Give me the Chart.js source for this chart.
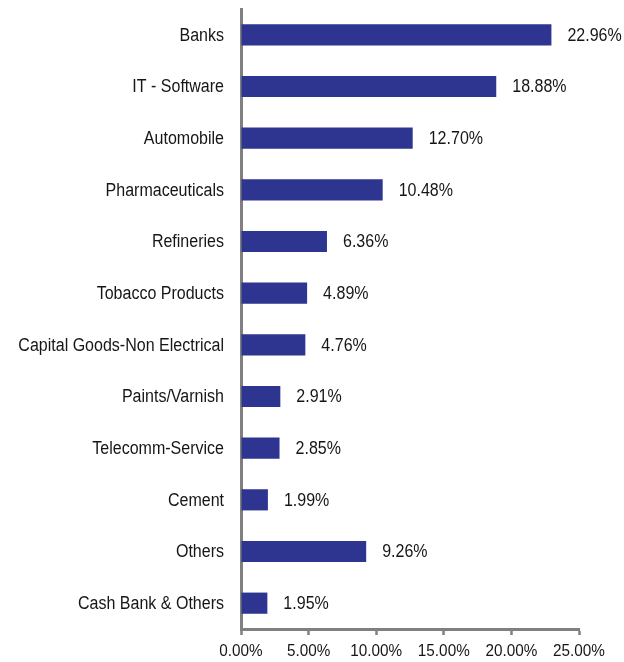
<!DOCTYPE html>
<html>
<head>
<meta charset="utf-8">
<script src="https://cdn.jsdelivr.net/npm/chart.js@4.4.1/dist/chart.umd.min.js"></script>
<style>
  html, body { margin: 0; padding: 0; background: #fff; }
  #wrap { width: 624px; height: 662px; }
</style>
</head>
<body>
<div id="wrap"><canvas id="sector-chart"></canvas></div>
<script>
// sector allocation (% of net assets)
var sectors = [
  'Banks', 'IT - Software', 'Automobile', 'Pharmaceuticals', 'Refineries',
  'Tobacco Products', 'Capital Goods-Non Electrical', 'Paints/Varnish',
  'Telecomm-Service', 'Cement', 'Others', 'Cash Bank & Others'
];
var weights = [22.96, 18.88, 12.70, 10.48, 6.36, 4.89, 4.76, 2.91, 2.85, 1.99, 9.26, 1.95];
var xTicks = [0, 5, 10, 15, 20, 25];

var FONT = "'Liberation Sans', Arial, sans-serif";
var TEXT = '#161616';
var SQUEEZE = 0.89;   // narrow type, like the factsheet font

function narrowText(ctx, str, x, y, align) {
  ctx.save();
  ctx.translate(x, y);
  ctx.scale(SQUEEZE, 1);
  ctx.textAlign = align;
  ctx.fillText(str, 0, 0);
  ctx.restore();
}

// category names, axis tick labels and bar values, all in narrow type
var narrowLabels = {
  id: 'narrowLabels',
  afterDraw: function (chart) {
    var ctx = chart.ctx;
    var xs = chart.scales.x;
    var ys = chart.scales.y;
    var meta = chart.getDatasetMeta(0);
    ctx.save();
    ctx.fillStyle = TEXT;
    ctx.textBaseline = 'middle';

    ctx.font = '18px ' + FONT;
    sectors.forEach(function (name, i) {
      narrowText(ctx, name, ys.right - 17, ys.getPixelForValue(i) + 1, 'right');
    });

    meta.data.forEach(function (bar, i) {
      narrowText(ctx, weights[i].toFixed(2) + '%', bar.x + 16, bar.y + 1, 'left');
    });

    ctx.font = '17.2px ' + FONT;
    xTicks.forEach(function (v) {
      narrowText(ctx, v.toFixed(2) + '%', xs.getPixelForValue(v), xs.top + 22, 'center');
    });
    ctx.restore();
  }
};

new Chart(document.getElementById('sector-chart'), {
  type: 'bar',
  data: {
    labels: sectors,
    datasets: [{
      data: weights,
      backgroundColor: '#2e3591',
      borderWidth: 0,
      barPercentage: 0.82,
      categoryPercentage: 0.5
    }]
  },
  options: {
    indexAxis: 'y',
    responsive: true,
    maintainAspectRatio: false,
    animation: false,
    layout: { padding: { top: 9, right: 45, bottom: 0, left: 0 } },
    plugins: {
      legend: { display: false },
      tooltip: { enabled: false }
    },
    scales: {
      x: {
        min: 0,
        max: 25,
        afterBuildTicks: function (axis) {
          axis.ticks = xTicks.map(function (v) { return { value: v }; });
        },
        afterFit: function (axis) {
          axis.height = 33;
          axis.paddingLeft = 0;
          axis.paddingRight = 0;
        },
        grid: {
          drawOnChartArea: false,
          drawTicks: true,
          tickLength: 6,
          tickWidth: 2.5,
          tickColor: '#808080'
        },
        border: { display: true, color: '#808080', width: 3 },
        ticks: { display: false }
      },
      y: {
        afterFit: function (axis) {
          axis.width = 241;
          axis.paddingTop = 0;
          axis.paddingBottom = 0;
        },
        grid: { display: false, drawTicks: false },
        border: { display: true, color: '#808080', width: 3 },
        ticks: { display: false }
      }
    }
  },
  plugins: [narrowLabels]
});
</script>
</body>
</html>
